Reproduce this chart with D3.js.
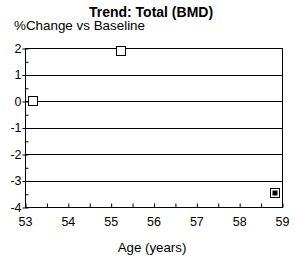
<!DOCTYPE html>
<html>
<head>
<meta charset="utf-8">
<script src="https://cdn.jsdelivr.net/npm/d3@7"></script>
<style>
  body { margin: 0; background: #fff; }
  text { font-family: "Liberation Sans", Arial, sans-serif; fill: #000; }
</style>
</head>
<body>
<svg id="chart"></svg>
<script>
// Data
const ages = [53.18, 55.24, 58.84];
const changes = [0, 1.9, -3.46];
const filled = [false, false, true];
const yTicks = [2, 1, 0, -1, -2, -3, -4];

const width = 300, height = 257;
const margin = {top: 48, right: 18, bottom: 50, left: 25};

const svg = d3.select('#chart')
    .attr('width', width)
    .attr('height', height);

const x = d3.scaleLinear().domain([53, 59]).range([margin.left, width - margin.right]);
const y = d3.scaleLinear().domain([-4, 2]).range([height - margin.bottom, margin.top]);

// Title and y label
svg.append('text')
    .attr('x', 151).attr('y', 17)
    .attr('text-anchor', 'middle')
    .style('font-size', '14px').style('font-weight', 'bold')
    .text('Trend: Total (BMD)');

svg.append('text')
    .attr('x', 14).attr('y', 30)
    .style('font-size', '13.4px')
    .text('%Change vs Baseline');

// Horizontal gridlines at every integer
svg.selectAll('.grid')
    .data(yTicks)
    .enter()
    .append('line')
    .attr('x1', x(53)).attr('x2', x(59))
    .attr('y1', d => Math.round(y(d)) + 0.5)
    .attr('y2', d => Math.round(y(d)) + 0.5)
    .attr('stroke', '#000');

// Left and right borders
[53, 59].forEach(v => {
    svg.append('line')
        .attr('x1', Math.round(x(v)) + 0.5).attr('x2', Math.round(x(v)) + 0.5)
        .attr('y1', y(2)).attr('y2', y(-4) + 1)
        .attr('stroke', '#000');
});

// Y axis: labels + minor ticks pointing in
const yAxis = d3.axisLeft(y)
    .tickValues(d3.range(-4, 2.01, 0.5))
    .tickSizeInner(-3)
    .tickSizeOuter(0)
    .tickPadding(6)
    .tickFormat(d => Number.isInteger(d) ? d : '');
const yAxisG = svg.append('g')
    .attr('transform', `translate(${Math.round(x(53)) + 0.5},0)`)
    .call(yAxis);
yAxisG.select('.domain').remove();
yAxisG.selectAll('.tick line').attr('stroke', '#000')
    .attr('transform', 'translate(0,0.5)')
    .attr('x1', d => Number.isInteger(d) ? -3 : 0)
    .attr('x2', 3);
yAxisG.selectAll('.tick text')
    .style('font-size', '12.5px')
    .attr('fill', '#000')
    .attr('x', -4)
    .attr('font-family', null);

// X axis: ticks every half year pointing up
const xAxis = d3.axisBottom(x)
    .tickValues(d3.range(53, 59.01, 0.5))
    .tickSizeInner(-4)
    .tickSizeOuter(0)
    .tickPadding(10)
    .tickFormat(d => Number.isInteger(d) ? d : '');
const xAxisG = svg.append('g')
    .attr('transform', `translate(0,${Math.round(y(-4)) + 0.5})`)
    .call(xAxis);
xAxisG.select('.domain').remove();
xAxisG.selectAll('.tick line').attr('stroke', '#000')
    .attr('transform', 'translate(0.5,0)');
xAxisG.selectAll('.tick text')
    .style('font-size', '12.5px')
    .attr('fill', '#000')
    .attr('font-family', null);

svg.append('text')
    .attr('x', 152).attr('y', 252)
    .attr('text-anchor', 'middle')
    .style('font-size', '13.3px')
    .text('Age (years)');

// Points
const pts = ages.map((a, i) => ({age: a, change: changes[i], filled: filled[i]}));
const size = 9;
const g = svg.selectAll('.point')
    .data(pts)
    .enter()
    .append('g')
    .attr('class', 'point')
    .attr('transform', d => `translate(${Math.round(x(d.age))},${Math.round(y(d.change))})`);

g.append('rect')
    .attr('x', -size / 2).attr('y', -size / 2)
    .attr('width', size).attr('height', size)
    .attr('fill', '#fff')
    .attr('stroke', '#000');

g.filter(d => d.filled)
    .append('rect')
    .attr('x', -2.5).attr('y', -2.5)
    .attr('width', 5).attr('height', 5)
    .attr('fill', '#000');
</script>
</body>
</html>
